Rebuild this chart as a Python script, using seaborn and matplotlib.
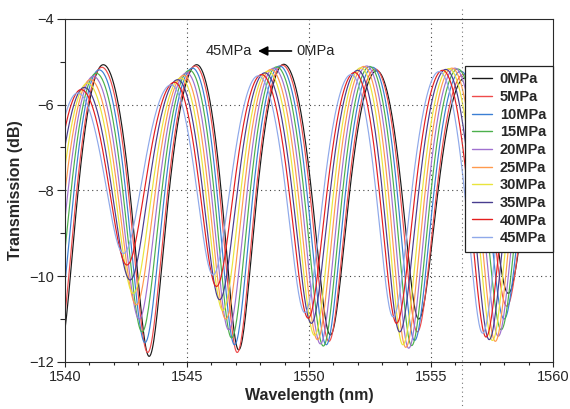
import numpy as np
import pandas as pd
import matplotlib
matplotlib.use("Agg")
import matplotlib.pyplot as plt
import seaborn as sns

# pressure series, colours as in the legend
pressures = ["0MPa", "5MPa", "10MPa", "15MPa", "20MPa",
             "25MPa", "30MPa", "35MPa", "40MPa", "45MPa"]
colors = ["#1a1a1a", "#ef4b4b", "#3b7fd4", "#4cb04c", "#a071d0",
          "#ff9a4d", "#e9e43c", "#483d8f", "#e41e1e", "#8fa9ea"]

# blue shift of each spectrum relative to 0MPa (nm)
shifts = [0.0, 0.06, 0.17, 0.29, 0.41, 0.53, 0.65, 0.78, 0.91, 1.05]

# extrema positions of the 0MPa spectrum (nm)
dip_wl = [1539.80, 1543.45, 1547.12, 1550.88, 1554.50, 1558.17, 1561.85]
peak_wl = [1541.57, 1545.40, 1548.97, 1552.78, 1556.39, 1560.00]

# dip depths (dB), one row per dip, one column per pressure
dip_db = [
    [-11.7, -11.6, -11.4, -11.2, -11.0, -10.8, -10.5, -10.2, -9.9, -9.6],
    [-11.87, -11.78, -11.55, -11.3, -11.0, -10.67, -10.4, -10.09, -9.74, -9.47],
    [-11.72, -11.78, -11.6, -11.44, -11.25, -11.0, -10.8, -10.55, -10.24, -9.97],
    [-11.37, -11.52, -11.6, -11.63, -11.58, -11.48, -11.38, -11.1, -10.98, -10.85],
    [-11.0, -11.3, -11.5, -11.62, -11.68, -11.66, -11.6, -11.3, -11.1, -10.95],
    [-10.4, -10.7, -11.0, -11.25, -11.4, -11.52, -11.5, -11.48, -11.42, -11.33],
    [-10.0, -10.2, -10.4, -10.6, -10.8, -11.0, -11.1, -11.2, -11.2, -11.2],
]

# peak levels (dB)
peak_db = [
    [-5.07, -5.13, -5.19, -5.27, -5.34, -5.42, -5.50, -5.60, -5.65, -5.73],
    [-5.07, -5.10, -5.15, -5.20, -5.26, -5.32, -5.38, -5.42, -5.48, -5.54],
    [-5.06, -5.08, -5.10, -5.12, -5.15, -5.18, -5.22, -5.26, -5.30, -5.33],
    [-5.21, -5.17, -5.13, -5.11, -5.10, -5.11, -5.14, -5.20, -5.25, -5.30],
    [-5.38, -5.30, -5.22, -5.17, -5.15, -5.15, -5.16, -5.18, -5.20, -5.23],
    [-5.50, -5.40, -5.32, -5.25, -5.20, -5.18, -5.18, -5.20, -5.22, -5.25],
]


def spectrum(k, n=60):
    # join the read extrema with smooth fringe segments (in linear power)
    xs, ys = [], []
    for i in range(len(dip_wl)):
        xs.append(dip_wl[i] - shifts[k])
        ys.append(dip_db[i][k])
        if i < len(peak_wl):
            xs.append(peak_wl[i] - shifts[k])
            ys.append(peak_db[i][k])
    wl, tr = [], []
    for a in range(len(xs) - 1):
        u = np.linspace(0, 1, n, endpoint=False)
        p0, p1 = 10 ** (ys[a] / 10), 10 ** (ys[a + 1] / 10)
        p = p0 + (p1 - p0) * (1 - np.cos(np.pi * u)) / 2
        wl.extend(xs[a] + (xs[a + 1] - xs[a]) * u)
        tr.extend(10 * np.log10(p))
    return wl, tr


frames = []
for k, name in enumerate(pressures):
    wl, tr = spectrum(k)
    frames.append(pd.DataFrame({"wl": wl, "db": tr, "pressure": name}))
df = pd.concat(frames, ignore_index=True)

sns.set_theme(style="ticks")
plt.rcParams["font.family"] = ["Liberation Sans", "DejaVu Sans"]

fig = plt.figure(figsize=(5.7, 4.09), dpi=100)
ax = fig.add_axes([0.114, 0.115, 0.856, 0.839])

sns.lineplot(data=df, x="wl", y="db", hue="pressure", hue_order=pressures,
             palette=colors, estimator=None, sort=False, lw=0.85, ax=ax)

ax.set_xlim(1540, 1560)
ax.set_ylim(-12, -4)
ax.set_xticks([1540, 1545, 1550, 1555, 1560])
ax.set_xticks(np.arange(1540, 1561, 1), minor=True)
ax.set_yticks([-12, -10, -8, -6, -4])
ax.set_yticks([-11, -9, -7, -5], minor=True)
ax.tick_params(axis="x", which="major", length=3.6, width=0.8, labelsize=10.5,
               direction="out", pad=2)
ax.tick_params(axis="x", which="minor", length=2.4, width=0.8, direction="out")
ax.tick_params(axis="y", which="major", length=6, width=0.8, labelsize=10.5,
               direction="out", pad=2)
ax.tick_params(axis="y", which="minor", length=3.6, width=0.8, direction="out")
for s in ax.spines.values():
    s.set_visible(True)
    s.set_color("#2a2a2a")
    s.set_linewidth(0.8)

# dotted grid
dot = dict(color="#444444", lw=0.8, ls=(0, (1, 3)), zorder=0)
for x in [1545, 1550, 1555]:
    ax.axvline(x, **dot)
for y in [-6, -8, -10]:
    ax.axhline(y, **dot)
ax.axvline(1556.26, ymin=-0.14, ymax=1.03, clip_on=False, color="#777777",
           lw=0.8, ls=(0, (1, 3)))

ax.set_xlabel("Wavelength (nm)", fontsize=11.5, fontweight="bold", labelpad=3)
ax.set_ylabel("Transmission (dB)", fontsize=11.5, fontweight="bold", labelpad=4)

# shift direction arrow
ax.annotate("", xy=(1547.8, -4.75), xytext=(1549.4, -4.75),
            arrowprops=dict(arrowstyle="-|>", color="black", lw=1.2,
                            mutation_scale=14))
ax.text(1547.65, -4.75, "45MPa", ha="right", va="center", fontsize=10.5)
ax.text(1549.5, -4.75, "0MPa", ha="left", va="center", fontsize=10.5)

leg = ax.legend(loc="upper right", bbox_to_anchor=(1.0, 0.863),
                borderaxespad=0, frameon=True, fancybox=False, framealpha=1,
                edgecolor="#222222", handlelength=1.4, handletextpad=0.5,
                labelspacing=0.25, borderpad=0.45,
                prop={"size": 10.5, "weight": "bold"})
leg.get_frame().set_linewidth(0.9)
for h in leg.get_lines():
    h.set_linewidth(1.0)

fig.savefig("out.png", dpi=100)
